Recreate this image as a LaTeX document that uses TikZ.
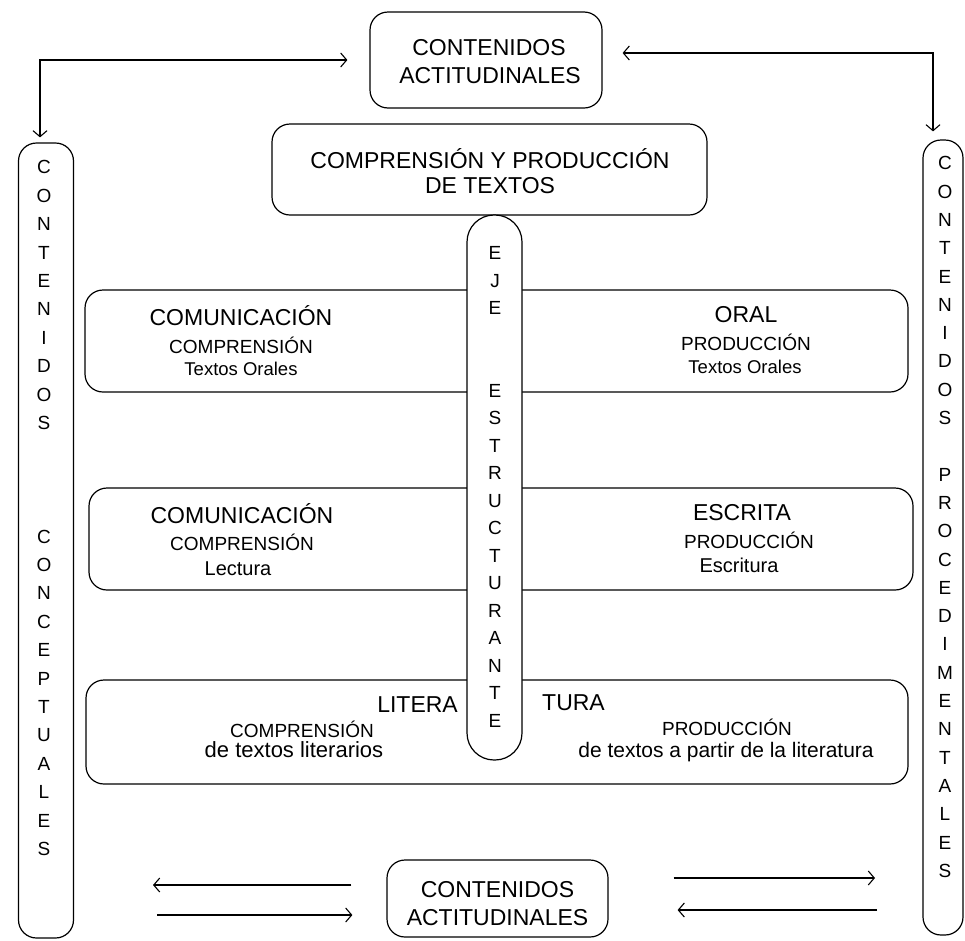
\documentclass[tikz,border=0pt]{standalone}
\usepackage{fontspec}
\setmainfont{Liberation Sans}
\usetikzlibrary{arrows.meta}
\newcommand\fsz[1]{\fontsize{#1}{#1}\selectfont}
\begin{document}
\begin{tikzpicture}[x=1pt,y=-1pt,
  rbox/.style={draw, line width=1.2pt, rounded corners=18pt, inner sep=0pt},
  pillbox/.style={draw, fill=white, line width=1.2pt, rounded corners=27pt, inner sep=0pt},
  tip/.style={Straight Barb[length=6pt,width=14pt]},
  arr/.style={line width=1.1pt, -{Straight Barb[length=6pt,width=14pt]}},
  dbl/.style={line width=1.1pt, {Straight Barb[length=6pt,width=14pt]}-{Straight Barb[length=6pt,width=14pt]}},
  big/.style={font=\fsz{23}, anchor=base, inner sep=0pt},
  mid/.style={font=\fsz{19}, anchor=base, inner sep=0pt},
  vlet/.style={font=\fsz{19}, anchor=base, inner sep=0pt},
]
\useasboundingbox (0,0) rectangle (965,940);

% boxes
\node[rbox, minimum width=232pt, minimum height=96pt] (top) at (486,60) {};
\node[rbox, minimum width=435pt, minimum height=91pt] (cpt) at (489.5,169.5) {};
\node[rbox, minimum width=55pt, minimum height=795pt] (lv) at (46,540.5) {};
\node[rbox, minimum width=40pt, minimum height=795pt] (rv) at (943,537.5) {};
\node[rbox, minimum width=823pt, minimum height=102pt] (b1) at (496.5,341) {};
\node[rbox, minimum width=824pt, minimum height=102pt] (b2) at (501,539) {};
\node[rbox, minimum width=822pt, minimum height=104pt] (b3) at (497,732) {};
\node[pillbox, minimum width=55pt, minimum height=545pt] (pill) at (494.5,487.5) {};
\node[rbox, minimum width=221pt, minimum height=77pt] (bot) at (497.5,898.5) {};

% top texts
\node[big] (t1) at (489,55) {CONTENIDOS};
\node[big] (t2) at (490,83) {ACTITUDINALES};
\node[big] (c1) at (490,168) {COMPRENSIÓN Y PRODUCCIÓN};
\node[big] (c2) at (490,193) {DE TEXTOS};

% box 1
\node[big] (b1a) at (241,325) {COMUNICACIÓN};
\node[mid] (b1b) at (241,353) {COMPRENSIÓN};
\node[font=\fsz{18.5}, anchor=base, inner sep=0pt] (b1c) at (241,375) {Textos Orales};
\node[big] (b1d) at (746,322) {ORAL};
\node[mid] (b1e) at (746,350) {PRODUCCIÓN};
\node[font=\fsz{18.5}, anchor=base, inner sep=0pt] (b1f) at (745,373) {Textos Orales};

% box 2
\node[big] (b2a) at (242,523) {COMUNICACIÓN};
\node[mid] (b2b) at (242,550) {COMPRENSIÓN};
\node[font=\fsz{20}, anchor=base, inner sep=0pt] (b2c) at (238,575) {Lectura};
\node[big] (b2d) at (742,520) {ESCRITA};
\node[mid] (b2e) at (749,548) {PRODUCCIÓN};
\node[font=\fsz{20}, anchor=base, inner sep=0pt] (b2f) at (739,572) {Escritura};

% box 3
\node[big, anchor=base east] (b3a) at (458,712) {LITERA};
\node[big, anchor=base west] (b3b) at (542,710) {TURA};
\node[mid] (b3c) at (302,737) {COMPRENSIÓN};
\node[font=\fsz{22}, anchor=base, inner sep=0pt] (b3d) at (294,757) {de textos literarios};
\node[mid] (b3e) at (727,735) {PRODUCCIÓN};
\node[font=\fsz{21}, anchor=base, inner sep=0pt] (b3f) at (726,757) {de textos a partir de la literatura};

% bottom box
\node[big] (bt1) at (497.5,897) {CONTENIDOS};
\node[big] (bt2) at (497.5,925) {ACTITUDINALES};

% vertical letters
\foreach \c [count=\i from 0] in {C,O,N,T,E,N,I,D,O,S,{},{},{},C,O,N,C,E,P,T,U,A,L,E,S}
  \node[vlet] (lv-\i) at (44,{173.8+\i*28.4}) {\c};
\foreach \c [count=\i from 0] in {C,O,N,T,E,N,I,D,O,S,{},P,R,O,C,E,D,I,M,E,N,T,A,L,E,S}
  \node[vlet] (rv-\i) at (945,{169.8+\i*28.3}) {\c};
\foreach \c [count=\i from 0] in {E,J,E,{},{},E,S,T,R,U,C,T,U,R,A,N,T,E}
  \node[vlet] (pl-\i) at (495,{259.8+\i*27.5}) {\c};

% top connectors
\draw[dbl, shorten <=5pt, shorten >=22pt] ([xshift=-6pt]lv.north) |- (top.west);
\draw[dbl, shorten <=8pt, shorten >=20pt] ([xshift=-10pt]rv.north) |- ([yshift=7pt]top.east);

% bottom arrows
\coordinate (la1) at (153,885);
\coordinate (la2) at (157,915);
\coordinate (ra1) at (875,878);
\coordinate (ra2) at (877,910);
\draw[arr, shorten <=35pt] ([yshift=13.5pt]bot.west) -- (la1);
\draw[arr, shorten >=34pt] (la2) -- ([yshift=-16.5pt]bot.west);
\draw[arr, shorten <=65pt] ([yshift=20.5pt]bot.east) -- (ra1);
\draw[arr, shorten >=69pt] (ra2) -- ([yshift=-11.5pt]bot.east);
\end{tikzpicture}
\end{document}
